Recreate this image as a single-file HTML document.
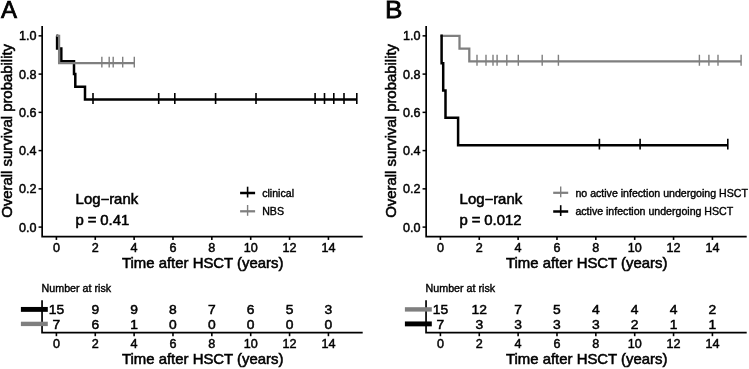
<!DOCTYPE html>
<html lang="en"><head><meta charset="utf-8"><title>Kaplan-Meier overall survival after HSCT</title>
<style>
html,body{margin:0;padding:0;background:#fff;}
body{width:749px;height:369px;overflow:hidden;}
svg{display:block;will-change:transform;}
svg text{font-family:"Liberation Sans",sans-serif;fill:#000;}
</style></head><body>
<svg width="749" height="369" viewBox="0 0 749 369">
<rect width="749" height="369" fill="#fff"/>
<g transform="translate(0,0)">
<text transform="translate(0.9,18.3) scale(0.98,1)" font-size="24.5" stroke="#000" stroke-width="0.75">A</text>
<path d="M42.15 26.1V236.55H362.7" fill="none" stroke="#000" stroke-width="1.7"/>
<path d="M38.55 227.1H42.15" stroke="#000" stroke-width="1.5"/>
<text transform="translate(36.5,231.65) scale(1.05,1)" font-size="12" text-anchor="end" stroke="#000" stroke-width="0.44">0.0</text>
<path d="M38.55 188.85H42.15" stroke="#000" stroke-width="1.5"/>
<text transform="translate(36.5,193.4) scale(1.05,1)" font-size="12" text-anchor="end" stroke="#000" stroke-width="0.44">0.2</text>
<path d="M38.55 150.6H42.15" stroke="#000" stroke-width="1.5"/>
<text transform="translate(36.5,155.15) scale(1.05,1)" font-size="12" text-anchor="end" stroke="#000" stroke-width="0.44">0.4</text>
<path d="M38.55 112.35H42.15" stroke="#000" stroke-width="1.5"/>
<text transform="translate(36.5,116.9) scale(1.05,1)" font-size="12" text-anchor="end" stroke="#000" stroke-width="0.44">0.6</text>
<path d="M38.55 74.1H42.15" stroke="#000" stroke-width="1.5"/>
<text transform="translate(36.5,78.65) scale(1.05,1)" font-size="12" text-anchor="end" stroke="#000" stroke-width="0.44">0.8</text>
<path d="M38.55 35.85H42.15" stroke="#000" stroke-width="1.5"/>
<text transform="translate(36.5,40.4) scale(1.05,1)" font-size="12" text-anchor="end" stroke="#000" stroke-width="0.44">1.0</text>
<path d="M56.4 236.55V239.95" stroke="#000" stroke-width="1.6"/>
<text transform="translate(56.4,251.7) scale(1.05,1)" font-size="12" text-anchor="middle" stroke="#000" stroke-width="0.44">0</text>
<path d="M95.26 236.55V239.95" stroke="#000" stroke-width="1.6"/>
<text transform="translate(95.26,251.7) scale(1.05,1)" font-size="12" text-anchor="middle" stroke="#000" stroke-width="0.44">2</text>
<path d="M134.12 236.55V239.95" stroke="#000" stroke-width="1.6"/>
<text transform="translate(134.12,251.7) scale(1.05,1)" font-size="12" text-anchor="middle" stroke="#000" stroke-width="0.44">4</text>
<path d="M172.98 236.55V239.95" stroke="#000" stroke-width="1.6"/>
<text transform="translate(172.98,251.7) scale(1.05,1)" font-size="12" text-anchor="middle" stroke="#000" stroke-width="0.44">6</text>
<path d="M211.84 236.55V239.95" stroke="#000" stroke-width="1.6"/>
<text transform="translate(211.84,251.7) scale(1.05,1)" font-size="12" text-anchor="middle" stroke="#000" stroke-width="0.44">8</text>
<path d="M250.7 236.55V239.95" stroke="#000" stroke-width="1.6"/>
<text transform="translate(250.7,251.7) scale(1.05,1)" font-size="12" text-anchor="middle" stroke="#000" stroke-width="0.44">10</text>
<path d="M289.56 236.55V239.95" stroke="#000" stroke-width="1.6"/>
<text transform="translate(289.56,251.7) scale(1.05,1)" font-size="12" text-anchor="middle" stroke="#000" stroke-width="0.44">12</text>
<path d="M328.42 236.55V239.95" stroke="#000" stroke-width="1.6"/>
<text transform="translate(328.42,251.7) scale(1.05,1)" font-size="12" text-anchor="middle" stroke="#000" stroke-width="0.44">14</text>
<text transform="translate(202.7,268.1) scale(1.05,1)" font-size="14.2" text-anchor="middle" stroke="#000" stroke-width="0.53">Time after HSCT (years)</text>
<text transform="translate(11.8,130.9) rotate(-90) scale(1.05,1)" font-size="14.2" text-anchor="middle" stroke="#000" stroke-width="0.53">Overall survival probability</text>
<path d="M56.4 35.85H57.1V48.6H61.3V61.35H74V74.1H75.3V86.85H85V99.6H356.8" fill="none" stroke="#000" stroke-width="2.5" stroke-linejoin="miter"/>
<path d="M93 93.1V104M158.7 93.1V104M174.8 93.1V104M215.6 93.1V104M256 93.1V104M315.1 93.1V104M324.5 93.1V104M333.8 93.1V104M344 93.1V104M356.8 93.1V104" stroke="#000" stroke-width="1.6" fill="none"/>
<path d="M56.4 35.85H59.1V63.17H134.3" fill="none" stroke="#7f7f7f" stroke-width="2.25" stroke-linejoin="miter"/>
<path d="M101.85 56.67V67.57M109.2 56.67V67.57M113.2 56.67V67.57M122.7 56.67V67.57M134.3 56.67V67.57" stroke="#7f7f7f" stroke-width="1.4" fill="none"/>
<text transform="translate(75.6,203.8) scale(1.05,1)" font-size="14.2" stroke="#000" stroke-width="0.53">Log−rank</text>
<text transform="translate(75.6,225.1) scale(1.05,1)" font-size="14.2" word-spacing="-0.3" stroke="#000" stroke-width="0.53">p = 0.41</text>
<path d="M240.1 193H255.1" stroke="#000" stroke-width="2.5"/>
<path d="M247.6 186.7V197.5" stroke="#000" stroke-width="1.6"/>
<text transform="translate(262.2,196.7) scale(1.05,1)" font-size="10.1" stroke="#000" stroke-width="0.37">clinical</text>
<path d="M240.1 211.3H255.1" stroke="#7f7f7f" stroke-width="2.25"/>
<path d="M247.6 205V215.8" stroke="#7f7f7f" stroke-width="1.4"/>
<text transform="translate(262.2,215) scale(1.05,1)" font-size="10.1" stroke="#000" stroke-width="0.37">NBS</text>
<text transform="translate(41.6,292) scale(1.05,1)" font-size="10.2" stroke="#000" stroke-width="0.38">Number at risk</text>
<path d="M42.05 300.3V332.7H362.7" fill="none" stroke="#000" stroke-width="1.7"/>
<text transform="translate(56.4,314.2) scale(1.05,1)" font-size="13.2" text-anchor="middle" stroke="#000" stroke-width="0.49">15</text>
<text transform="translate(95.26,314.2) scale(1.05,1)" font-size="13.2" text-anchor="middle" stroke="#000" stroke-width="0.49">9</text>
<text transform="translate(134.12,314.2) scale(1.05,1)" font-size="13.2" text-anchor="middle" stroke="#000" stroke-width="0.49">9</text>
<text transform="translate(172.98,314.2) scale(1.05,1)" font-size="13.2" text-anchor="middle" stroke="#000" stroke-width="0.49">8</text>
<text transform="translate(211.84,314.2) scale(1.05,1)" font-size="13.2" text-anchor="middle" stroke="#000" stroke-width="0.49">7</text>
<text transform="translate(250.7,314.2) scale(1.05,1)" font-size="13.2" text-anchor="middle" stroke="#000" stroke-width="0.49">6</text>
<text transform="translate(289.56,314.2) scale(1.05,1)" font-size="13.2" text-anchor="middle" stroke="#000" stroke-width="0.49">5</text>
<text transform="translate(328.42,314.2) scale(1.05,1)" font-size="13.2" text-anchor="middle" stroke="#000" stroke-width="0.49">3</text>
<text transform="translate(56.4,328.7) scale(1.05,1)" font-size="13.2" text-anchor="middle" stroke="#000" stroke-width="0.49">7</text>
<text transform="translate(95.26,328.7) scale(1.05,1)" font-size="13.2" text-anchor="middle" stroke="#000" stroke-width="0.49">6</text>
<text transform="translate(134.12,328.7) scale(1.05,1)" font-size="13.2" text-anchor="middle" stroke="#000" stroke-width="0.49">1</text>
<text transform="translate(172.98,328.7) scale(1.05,1)" font-size="13.2" text-anchor="middle" stroke="#000" stroke-width="0.49">0</text>
<text transform="translate(211.84,328.7) scale(1.05,1)" font-size="13.2" text-anchor="middle" stroke="#000" stroke-width="0.49">0</text>
<text transform="translate(250.7,328.7) scale(1.05,1)" font-size="13.2" text-anchor="middle" stroke="#000" stroke-width="0.49">0</text>
<text transform="translate(289.56,328.7) scale(1.05,1)" font-size="13.2" text-anchor="middle" stroke="#000" stroke-width="0.49">0</text>
<text transform="translate(328.42,328.7) scale(1.05,1)" font-size="13.2" text-anchor="middle" stroke="#000" stroke-width="0.49">0</text>
<path d="M20.9 323.9H47.8" stroke="#7f7f7f" stroke-width="4.4"/>
<path d="M20.9 309.4H47.8" stroke="#000" stroke-width="4.9"/>
<path d="M56.4 332.7V336.2" stroke="#000" stroke-width="1.6"/>
<text transform="translate(56.4,347.9) scale(1.05,1)" font-size="12" text-anchor="middle" stroke="#000" stroke-width="0.44">0</text>
<path d="M95.26 332.7V336.2" stroke="#000" stroke-width="1.6"/>
<text transform="translate(95.26,347.9) scale(1.05,1)" font-size="12" text-anchor="middle" stroke="#000" stroke-width="0.44">2</text>
<path d="M134.12 332.7V336.2" stroke="#000" stroke-width="1.6"/>
<text transform="translate(134.12,347.9) scale(1.05,1)" font-size="12" text-anchor="middle" stroke="#000" stroke-width="0.44">4</text>
<path d="M172.98 332.7V336.2" stroke="#000" stroke-width="1.6"/>
<text transform="translate(172.98,347.9) scale(1.05,1)" font-size="12" text-anchor="middle" stroke="#000" stroke-width="0.44">6</text>
<path d="M211.84 332.7V336.2" stroke="#000" stroke-width="1.6"/>
<text transform="translate(211.84,347.9) scale(1.05,1)" font-size="12" text-anchor="middle" stroke="#000" stroke-width="0.44">8</text>
<path d="M250.7 332.7V336.2" stroke="#000" stroke-width="1.6"/>
<text transform="translate(250.7,347.9) scale(1.05,1)" font-size="12" text-anchor="middle" stroke="#000" stroke-width="0.44">10</text>
<path d="M289.56 332.7V336.2" stroke="#000" stroke-width="1.6"/>
<text transform="translate(289.56,347.9) scale(1.05,1)" font-size="12" text-anchor="middle" stroke="#000" stroke-width="0.44">12</text>
<path d="M328.42 332.7V336.2" stroke="#000" stroke-width="1.6"/>
<text transform="translate(328.42,347.9) scale(1.05,1)" font-size="12" text-anchor="middle" stroke="#000" stroke-width="0.44">14</text>
<text transform="translate(202.7,364.1) scale(1.05,1)" font-size="14.2" text-anchor="middle" stroke="#000" stroke-width="0.53">Time after HSCT (years)</text>
</g>
<g transform="translate(384,0)">
<text transform="translate(1.1,18.3) scale(1.07,1)" font-size="24.5" stroke="#000" stroke-width="0.75">B</text>
<path d="M42.15 26.1V236.55H362.7" fill="none" stroke="#000" stroke-width="1.7"/>
<path d="M38.55 227.1H42.15" stroke="#000" stroke-width="1.5"/>
<text transform="translate(36.5,231.65) scale(1.05,1)" font-size="12" text-anchor="end" stroke="#000" stroke-width="0.44">0.0</text>
<path d="M38.55 188.85H42.15" stroke="#000" stroke-width="1.5"/>
<text transform="translate(36.5,193.4) scale(1.05,1)" font-size="12" text-anchor="end" stroke="#000" stroke-width="0.44">0.2</text>
<path d="M38.55 150.6H42.15" stroke="#000" stroke-width="1.5"/>
<text transform="translate(36.5,155.15) scale(1.05,1)" font-size="12" text-anchor="end" stroke="#000" stroke-width="0.44">0.4</text>
<path d="M38.55 112.35H42.15" stroke="#000" stroke-width="1.5"/>
<text transform="translate(36.5,116.9) scale(1.05,1)" font-size="12" text-anchor="end" stroke="#000" stroke-width="0.44">0.6</text>
<path d="M38.55 74.1H42.15" stroke="#000" stroke-width="1.5"/>
<text transform="translate(36.5,78.65) scale(1.05,1)" font-size="12" text-anchor="end" stroke="#000" stroke-width="0.44">0.8</text>
<path d="M38.55 35.85H42.15" stroke="#000" stroke-width="1.5"/>
<text transform="translate(36.5,40.4) scale(1.05,1)" font-size="12" text-anchor="end" stroke="#000" stroke-width="0.44">1.0</text>
<path d="M56.4 236.55V239.95" stroke="#000" stroke-width="1.6"/>
<text transform="translate(56.4,251.7) scale(1.05,1)" font-size="12" text-anchor="middle" stroke="#000" stroke-width="0.44">0</text>
<path d="M95.26 236.55V239.95" stroke="#000" stroke-width="1.6"/>
<text transform="translate(95.26,251.7) scale(1.05,1)" font-size="12" text-anchor="middle" stroke="#000" stroke-width="0.44">2</text>
<path d="M134.12 236.55V239.95" stroke="#000" stroke-width="1.6"/>
<text transform="translate(134.12,251.7) scale(1.05,1)" font-size="12" text-anchor="middle" stroke="#000" stroke-width="0.44">4</text>
<path d="M172.98 236.55V239.95" stroke="#000" stroke-width="1.6"/>
<text transform="translate(172.98,251.7) scale(1.05,1)" font-size="12" text-anchor="middle" stroke="#000" stroke-width="0.44">6</text>
<path d="M211.84 236.55V239.95" stroke="#000" stroke-width="1.6"/>
<text transform="translate(211.84,251.7) scale(1.05,1)" font-size="12" text-anchor="middle" stroke="#000" stroke-width="0.44">8</text>
<path d="M250.7 236.55V239.95" stroke="#000" stroke-width="1.6"/>
<text transform="translate(250.7,251.7) scale(1.05,1)" font-size="12" text-anchor="middle" stroke="#000" stroke-width="0.44">10</text>
<path d="M289.56 236.55V239.95" stroke="#000" stroke-width="1.6"/>
<text transform="translate(289.56,251.7) scale(1.05,1)" font-size="12" text-anchor="middle" stroke="#000" stroke-width="0.44">12</text>
<path d="M328.42 236.55V239.95" stroke="#000" stroke-width="1.6"/>
<text transform="translate(328.42,251.7) scale(1.05,1)" font-size="12" text-anchor="middle" stroke="#000" stroke-width="0.44">14</text>
<text transform="translate(202.7,268.1) scale(1.05,1)" font-size="14.2" text-anchor="middle" stroke="#000" stroke-width="0.53">Time after HSCT (years)</text>
<text transform="translate(11.8,130.9) rotate(-90) scale(1.05,1)" font-size="14.2" text-anchor="middle" stroke="#000" stroke-width="0.53">Overall survival probability</text>
<path d="M56.4 35.85H75.5V48.6H85.3V61.35H357.1" fill="none" stroke="#7f7f7f" stroke-width="2.25" stroke-linejoin="miter"/>
<path d="M93 54.85V65.75M102 54.85V65.75M109 54.85V65.75M113.1 54.85V65.75M122.8 54.85V65.75M134.3 54.85V65.75M158.2 54.85V65.75M174.4 54.85V65.75M315.4 54.85V65.75M324.9 54.85V65.75M334 54.85V65.75M357.1 54.85V65.75" stroke="#7f7f7f" stroke-width="1.4" fill="none"/>
<path d="M56.4 35.85H57.6V63.17H59.2V90.49H61.5V117.81H74.1V145.14H343.8" fill="none" stroke="#000" stroke-width="2.5" stroke-linejoin="miter"/>
<path d="M215.4 138.64V149.54M256.1 138.64V149.54M343.8 138.64V149.54" stroke="#000" stroke-width="1.6" fill="none"/>
<text transform="translate(75.6,203.8) scale(1.05,1)" font-size="14.2" stroke="#000" stroke-width="0.53">Log−rank</text>
<text transform="translate(75.6,225.1) scale(1.05,1)" font-size="14.2" word-spacing="-0.3" stroke="#000" stroke-width="0.53">p = 0.012</text>
<path d="M169.2 192.8H184.2" stroke="#7f7f7f" stroke-width="2.25"/>
<path d="M176.7 186.5V197.3" stroke="#7f7f7f" stroke-width="1.4"/>
<text transform="translate(191.4,196.5) scale(1.05,1)" font-size="10.1" stroke="#000" stroke-width="0.37">no active infection undergoing HSCT</text>
<path d="M169.2 211.5H184.2" stroke="#000" stroke-width="2.5"/>
<path d="M176.7 205.2V216" stroke="#000" stroke-width="1.6"/>
<text transform="translate(191.4,215.2) scale(1.05,1)" font-size="10.1" stroke="#000" stroke-width="0.37">active infection undergoing HSCT</text>
<text transform="translate(41.6,292) scale(1.05,1)" font-size="10.2" stroke="#000" stroke-width="0.38">Number at risk</text>
<path d="M42.05 300.3V332.7H362.7" fill="none" stroke="#000" stroke-width="1.7"/>
<text transform="translate(56.4,314.2) scale(1.05,1)" font-size="13.2" text-anchor="middle" stroke="#000" stroke-width="0.49">15</text>
<text transform="translate(95.26,314.2) scale(1.05,1)" font-size="13.2" text-anchor="middle" stroke="#000" stroke-width="0.49">12</text>
<text transform="translate(134.12,314.2) scale(1.05,1)" font-size="13.2" text-anchor="middle" stroke="#000" stroke-width="0.49">7</text>
<text transform="translate(172.98,314.2) scale(1.05,1)" font-size="13.2" text-anchor="middle" stroke="#000" stroke-width="0.49">5</text>
<text transform="translate(211.84,314.2) scale(1.05,1)" font-size="13.2" text-anchor="middle" stroke="#000" stroke-width="0.49">4</text>
<text transform="translate(250.7,314.2) scale(1.05,1)" font-size="13.2" text-anchor="middle" stroke="#000" stroke-width="0.49">4</text>
<text transform="translate(289.56,314.2) scale(1.05,1)" font-size="13.2" text-anchor="middle" stroke="#000" stroke-width="0.49">4</text>
<text transform="translate(328.42,314.2) scale(1.05,1)" font-size="13.2" text-anchor="middle" stroke="#000" stroke-width="0.49">2</text>
<text transform="translate(56.4,328.7) scale(1.05,1)" font-size="13.2" text-anchor="middle" stroke="#000" stroke-width="0.49">7</text>
<text transform="translate(95.26,328.7) scale(1.05,1)" font-size="13.2" text-anchor="middle" stroke="#000" stroke-width="0.49">3</text>
<text transform="translate(134.12,328.7) scale(1.05,1)" font-size="13.2" text-anchor="middle" stroke="#000" stroke-width="0.49">3</text>
<text transform="translate(172.98,328.7) scale(1.05,1)" font-size="13.2" text-anchor="middle" stroke="#000" stroke-width="0.49">3</text>
<text transform="translate(211.84,328.7) scale(1.05,1)" font-size="13.2" text-anchor="middle" stroke="#000" stroke-width="0.49">3</text>
<text transform="translate(250.7,328.7) scale(1.05,1)" font-size="13.2" text-anchor="middle" stroke="#000" stroke-width="0.49">2</text>
<text transform="translate(289.56,328.7) scale(1.05,1)" font-size="13.2" text-anchor="middle" stroke="#000" stroke-width="0.49">1</text>
<text transform="translate(328.42,328.7) scale(1.05,1)" font-size="13.2" text-anchor="middle" stroke="#000" stroke-width="0.49">1</text>
<path d="M20.9 309.4H47.8" stroke="#7f7f7f" stroke-width="4.4"/>
<path d="M20.9 323.9H47.8" stroke="#000" stroke-width="4.9"/>
<path d="M56.4 332.7V336.2" stroke="#000" stroke-width="1.6"/>
<text transform="translate(56.4,347.9) scale(1.05,1)" font-size="12" text-anchor="middle" stroke="#000" stroke-width="0.44">0</text>
<path d="M95.26 332.7V336.2" stroke="#000" stroke-width="1.6"/>
<text transform="translate(95.26,347.9) scale(1.05,1)" font-size="12" text-anchor="middle" stroke="#000" stroke-width="0.44">2</text>
<path d="M134.12 332.7V336.2" stroke="#000" stroke-width="1.6"/>
<text transform="translate(134.12,347.9) scale(1.05,1)" font-size="12" text-anchor="middle" stroke="#000" stroke-width="0.44">4</text>
<path d="M172.98 332.7V336.2" stroke="#000" stroke-width="1.6"/>
<text transform="translate(172.98,347.9) scale(1.05,1)" font-size="12" text-anchor="middle" stroke="#000" stroke-width="0.44">6</text>
<path d="M211.84 332.7V336.2" stroke="#000" stroke-width="1.6"/>
<text transform="translate(211.84,347.9) scale(1.05,1)" font-size="12" text-anchor="middle" stroke="#000" stroke-width="0.44">8</text>
<path d="M250.7 332.7V336.2" stroke="#000" stroke-width="1.6"/>
<text transform="translate(250.7,347.9) scale(1.05,1)" font-size="12" text-anchor="middle" stroke="#000" stroke-width="0.44">10</text>
<path d="M289.56 332.7V336.2" stroke="#000" stroke-width="1.6"/>
<text transform="translate(289.56,347.9) scale(1.05,1)" font-size="12" text-anchor="middle" stroke="#000" stroke-width="0.44">12</text>
<path d="M328.42 332.7V336.2" stroke="#000" stroke-width="1.6"/>
<text transform="translate(328.42,347.9) scale(1.05,1)" font-size="12" text-anchor="middle" stroke="#000" stroke-width="0.44">14</text>
<text transform="translate(202.7,364.1) scale(1.05,1)" font-size="14.2" text-anchor="middle" stroke="#000" stroke-width="0.53">Time after HSCT (years)</text>
</g>
</svg>
</body></html>
